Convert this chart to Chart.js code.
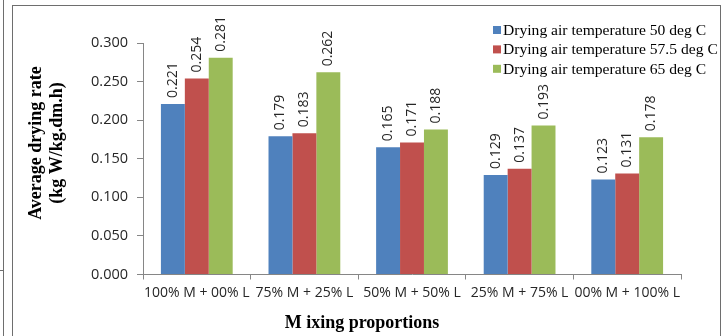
<!DOCTYPE html>
<html>
<head>
<meta charset="utf-8">
<script src="https://cdn.jsdelivr.net/npm/chart.js@4/dist/chart.umd.min.js"></script>
<style>
  html, body { margin: 0; padding: 0; background: #fff; }
  #wrap { position: relative; width: 728px; height: 336px; overflow: hidden; }
  #frame { position: absolute; left: 12px; top: 5px; width: 709px; height: 340px; border: 1px solid #6e6e6e; box-sizing: border-box; }
  #edge { position: absolute; left: 3px; top: 0; width: 1px; height: 336px; background: #6e6e6e; }
  #edgeTick { position: absolute; left: 0; top: 270px; width: 3px; height: 1px; background: #6e6e6e; }
  canvas { position: absolute; left: 0; top: 0; }
</style>
</head>
<body>
<div id="wrap">
  <div id="edge"></div>
  <div id="edgeTick"></div>
  <div id="frame"></div>
  <canvas id="c" width="728" height="336"></canvas>
</div>
<script>
// Mixing proportions (M = first material, L = second material)
const categories = ['100% M + 00% L', '75% M + 25% L', '50% M + 50% L', '25% M + 75% L', '00% M + 100% L'];
const seriesNames = ['Drying air temperature 50 deg C', 'Drying air temperature 57.5 deg C', 'Drying air temperature 65 deg C'];
const rate50 = [0.221, 0.179, 0.165, 0.129, 0.123];
const rate575 = [0.254, 0.183, 0.171, 0.137, 0.131];
const rate65 = [0.281, 0.262, 0.188, 0.193, 0.178];
const yTicks = [0.000, 0.050, 0.100, 0.150, 0.200, 0.250, 0.300];
const colors = ['#4F81BD', '#C0504D', '#9BBB59'];

const axisColor = '#868686';
const sansFont = 'Open Sans';
const serifFont = 'Liberation Serif';

// rotated value labels above each bar
const valueLabels = {
  id: 'valueLabels',
  afterDatasetsDraw(chart) {
    const ctx = chart.ctx;
    ctx.save();
    ctx.font = '14px "' + sansFont + '"';
    ctx.fillStyle = '#262626';
    ctx.textAlign = 'left';
    ctx.textBaseline = 'middle';
    chart.data.datasets.forEach((ds, i) => {
      chart.getDatasetMeta(i).data.forEach((bar, j) => {
        ctx.save();
        ctx.translate(bar.x, bar.y - 6);
        ctx.rotate(-Math.PI / 2);
        ctx.fillText(ds.data[j].toFixed(3), 0, 0);
        ctx.restore();
      });
    });
    ctx.restore();
  }
};

// legend in the upper right corner, overlapping the plot area
const cornerLegend = {
  id: 'cornerLegend',
  afterDraw(chart) {
    const ctx = chart.ctx;
    ctx.save();
    ctx.font = '15.6px "' + serifFont + '"';
    ctx.textBaseline = 'middle';
    ctx.textAlign = 'left';
    chart.data.datasets.forEach((ds, i) => {
      const y = 30 + i * 19.4;
      ctx.fillStyle = ds.backgroundColor;
      ctx.fillRect(493, y - 4, 8, 8);
      ctx.fillStyle = '#000';
      ctx.fillText(ds.label, 503, y + 1);
    });
    ctx.restore();
  }
};

// axis titles in bold serif
const axisTitles = {
  id: 'axisTitles',
  afterDraw(chart) {
    const ctx = chart.ctx;
    ctx.save();
    ctx.font = 'bold 18px "' + serifFont + '"';
    ctx.fillStyle = '#000';
    ctx.textAlign = 'center';
    ctx.textBaseline = 'middle';
    ctx.fillText('M ixing proportions', 362, 323);
    ctx.translate(0, 143);
    ctx.rotate(-Math.PI / 2);
    ctx.fillText('Average drying rate', 0, 36);
    ctx.fillText('(kg W/kg.dm.h)', 0, 57);
    ctx.restore();
  }
};

new Chart(document.getElementById('c'), {
  type: 'bar',
  data: {
    labels: categories,
    datasets: [
      { label: seriesNames[0], data: rate50, backgroundColor: colors[0] },
      { label: seriesNames[1], data: rate575, backgroundColor: colors[1] },
      { label: seriesNames[2], data: rate65, backgroundColor: colors[2] }
    ]
  },
  options: {
    responsive: false,
    animation: false,
    events: [],
    layout: { padding: { left: 0, right: 47, top: 43, bottom: 0 } },
    datasets: { bar: { categoryPercentage: 0.667, barPercentage: 1.0, borderWidth: 0 } },
    plugins: { legend: { display: false }, tooltip: { enabled: false } },
    scales: {
      x: {
        grid: { display: true, drawOnChartArea: false, drawTicks: true, tickLength: 5, color: axisColor, offset: true },
        border: { display: true, color: axisColor },
        ticks: { color: '#262626', font: { family: sansFont, size: 14 }, padding: 5, maxRotation: 0, autoSkip: false },
        afterFit(scale) { scale.height = 336 - 274.5; }
      },
      y: {
        min: 0,
        max: 0.3,
        afterBuildTicks(scale) { scale.ticks = yTicks.map(v => ({ value: v })); },
        grid: { display: true, drawOnChartArea: false, drawTicks: true, tickLength: 6, color: axisColor },
        border: { display: true, color: axisColor },
        ticks: {
          color: '#262626',
          font: { family: sansFont, size: 14.5 },
          padding: 9,
          callback: v => Number(v).toFixed(3)
        },
        afterFit(scale) { scale.width = 143; }
      }
    }
  },
  plugins: [valueLabels, cornerLegend, axisTitles]
});
</script>
</body>
</html>
